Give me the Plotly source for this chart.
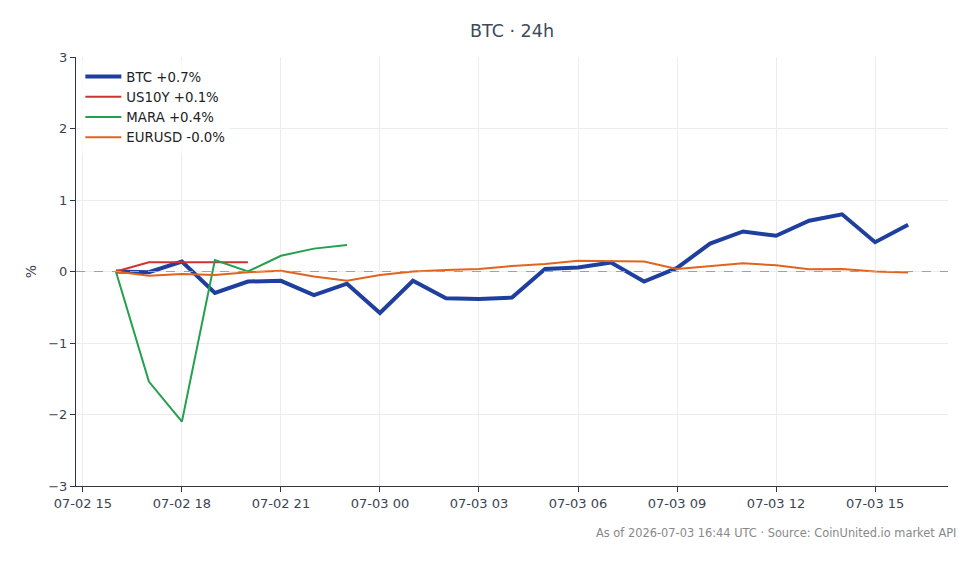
import pandas as pd
import plotly.graph_objects as go

times = pd.date_range("2026-07-02 16:00", "2026-07-03 16:00", freq="h")

btc = [0.0, -0.01, 0.14, -0.30, -0.14, -0.13, -0.33, -0.17, -0.58, -0.13, -0.375, -0.385,
       -0.365, 0.035, 0.055, 0.125, -0.14, 0.05, 0.39, 0.56, 0.50, 0.71, 0.80, 0.41, 0.655]
us10y = [0.0, 0.13, 0.13, 0.13, 0.13]
mara = [0.0, -1.54, -2.10, 0.16, 0.0, 0.22, 0.32, 0.37]
eurusd = [0.0, -0.06, -0.035, -0.05, -0.01, 0.01, -0.07, -0.13, -0.05, 0.0, 0.02, 0.035,
          0.077, 0.105, 0.15, 0.15, 0.14, 0.035, 0.077, 0.115, 0.087, 0.03, 0.035, 0.0, -0.015]

series = [
    ("BTC +0.7%", btc, "#1f3f9e", 4),
    ("US10Y +0.1%", us10y, "#cc3333", 2),
    ("MARA +0.4%", mara, "#23a04d", 2),
    ("EURUSD -0.0%", eurusd, "#e0641e", 2),
]

fig = go.Figure()
for name, vals, color, w in series:
    fig.add_trace(go.Scatter(x=times[:len(vals)], y=vals, mode="lines", name=name,
                             line=dict(color=color, width=w)))

fig.add_shape(type="line", xref="paper", x0=0, x1=1, yref="y", y0=0, y1=0,
              line=dict(color="#9aa2ae", width=1, dash="dash"), layer="above")

fig.update_layout(
    width=980, height=564,
    margin=dict(l=76, r=32, t=57, b=78),
    paper_bgcolor="white", plot_bgcolor="white",
    font=dict(family="DejaVu Sans", size=13, color="#3c4452"),
    title=dict(text="BTC · 24h", x=0.5, xref="paper", xanchor="center", y=0.945, yanchor="middle",
               font=dict(size=17.5, color="#3c4a5c")),
    showlegend=True,
    legend=dict(x=0.005, y=0.99, xanchor="left", yanchor="top", bgcolor="rgba(255,255,255,0.8)",
                font=dict(size=13.3, color="#222"), tracegroupgap=0, itemwidth=36),
    xaxis=dict(
        type="date",
        range=["2026-07-02 14:47:30", "2026-07-03 17:12:30"],
        tick0="2026-07-02 15:00", dtick=3 * 3600 * 1000, tickformat="%m-%d %H",
        showgrid=True, gridcolor="#ececec", gridwidth=1,
        showline=True, linecolor="#2d3746", linewidth=1,
        ticks="outside", ticklen=5, tickcolor="#2d3746",
        zeroline=False, tickfont=dict(size=13, color="#3c4452"),
    ),
    yaxis=dict(
        range=[-3, 3], dtick=1, title=dict(text="%", font=dict(size=14, color="#3c4452"), standoff=8),
        showgrid=True, gridcolor="#ececec", gridwidth=1,
        showline=True, linecolor="#2d3746", linewidth=1,
        ticks="outside", ticklen=5, tickcolor="#2d3746",
        zeroline=False, tickfont=dict(size=13, color="#3c4452"),
    ),
)

fig.add_annotation(text="As of 2026-07-03 16:44 UTC · Source: CoinUnited.io market API",
                   xref="paper", yref="paper", x=1.011, y=-0.11, xanchor="right", yanchor="middle",
                   showarrow=False, font=dict(size=11.4, color="#888"))

fig.write_html("out.html")
